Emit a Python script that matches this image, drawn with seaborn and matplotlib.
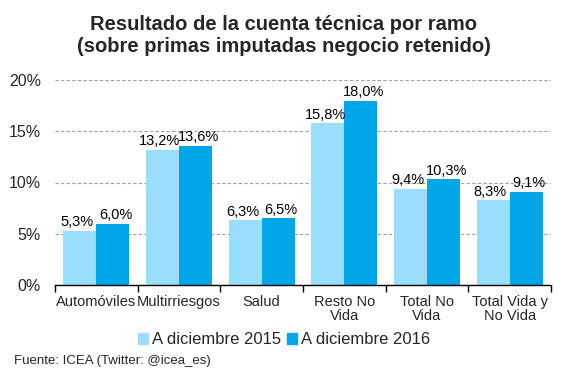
import matplotlib
matplotlib.use("Agg")
import matplotlib.pyplot as plt
import seaborn as sns
import pandas as pd
from matplotlib.patches import Patch

categories = ["Automóviles", "Multirriesgos", "Salud", "Resto No\nVida", "Total No\nVida", "Total Vida y\nNo Vida"]
series_names = ["A diciembre 2015", "A diciembre 2016"]
values_2015 = [5.3, 13.2, 6.3, 15.8, 9.4, 8.3]
values_2016 = [6.0, 13.6, 6.5, 18.0, 10.3, 9.1]
yticks = [0, 5, 10, 15, 20]
colors = ["#99DDFF", "#00A6E8"]

df = pd.DataFrame({
    "cat": categories * 2,
    "serie": [series_names[0]] * 6 + [series_names[1]] * 6,
    "val": values_2015 + values_2016,
})

sns.set_theme(style="white")
plt.rcParams["font.family"] = ["Liberation Sans", "DejaVu Sans"]

fig = plt.figure(figsize=(5.68, 3.78), dpi=100)
ax = fig.add_axes([55/568, 1 - 285/378, (551-55)/568, (285-80)/378])

sns.barplot(data=df, x="cat", y="val", hue="serie", palette=colors, width=0.8,
            saturation=1, ax=ax, legend=False, errorbar=None, linewidth=0)

for k, cont in enumerate(ax.containers):
    anns = ax.bar_label(cont, labels=[f"{v:.1f}%".replace(".", ",") for v in cont.datavalues],
                        fontsize=10.5, padding=1, color="black")
    dx = -2 if k == 0 else 2
    for a in anns:
        a.xyann = (dx, a.xyann[1])

ax.set_ylim(0, 20)
ax.set_yticks(yticks)
ax.set_yticklabels([f"{t}%" for t in yticks], fontsize=11.5)
ax.set_xlim(-0.5, 5.5)
ax.set_xticks(range(len(categories)))
ax.set_xticklabels(categories, fontsize=10.5, linespacing=1.05)
ax.set_xlabel("")
ax.set_ylabel("")
ax.yaxis.grid(True, linestyle=(0, (3, 2)), color="#a0a0a0", linewidth=0.8)
ax.set_axisbelow(True)
for s in ["left", "right", "top"]:
    ax.spines[s].set_visible(False)
ax.spines["bottom"].set_color("black")
ax.spines["bottom"].set_linewidth(1)
ax.tick_params(axis="y", length=0, pad=10)
ax.tick_params(axis="x", length=0, pad=7)
ax.set_xticks([i - 0.5 for i in range(len(categories) + 1)], minor=True)
ax.tick_params(axis="x", which="minor", length=5, width=1, color="black", direction="out", bottom=True)

fig.text(0.5, 1 - 35/378, "Resultado de la cuenta técnica por ramo\n(sobre primas imputadas negocio retenido)",
         ha="center", va="center", fontsize=14.5, fontweight="bold", linespacing=1.2)

handles = [Patch(color=c) for c in colors]
fig.legend(handles, series_names, loc="center", bbox_to_anchor=(0.5, 1 - 340/378), ncol=2,
           frameon=False, fontsize=12, handlelength=0.6, handleheight=0.6, handletextpad=0.2,
           columnspacing=0.4)

fig.text(14/568, 1 - 361/378, "Fuente: ICEA (Twitter: @icea_es)", fontsize=9.5, va="center", ha="left")

fig.savefig("out.png", dpi=100)
